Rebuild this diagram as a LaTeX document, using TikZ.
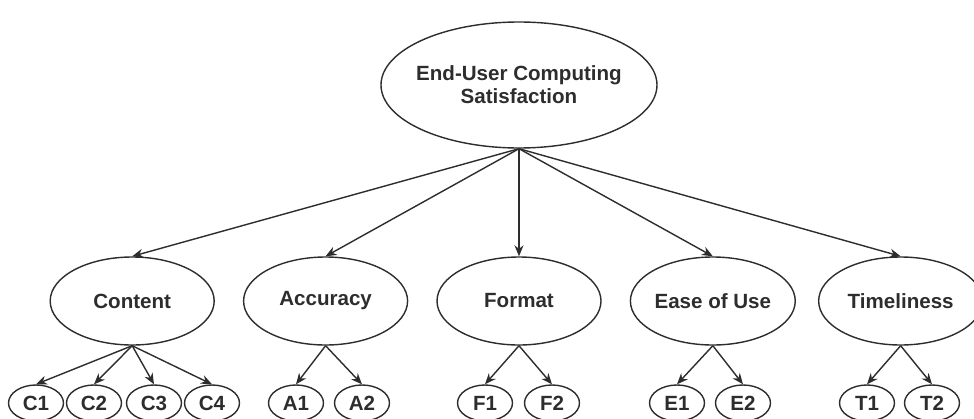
\documentclass[tikz,border=0pt]{standalone}
\usepackage{fontspec}
\setmainfont{Liberation Sans}
\usetikzlibrary{shapes.geometric,arrows.meta,positioning}
\definecolor{ink}{RGB}{45,45,45}

\begin{document}
\begin{tikzpicture}[
	font=\bfseries\fontsize{11.7}{13}\selectfont,
	node distance=0.56cm,
	>={Stealth[length=2.2mm,width=1.8mm]},
	construct/.style={ellipse, draw=ink, text=ink, line width=0.8pt, minimum width=3.28cm, minimum height=1.76cm, inner sep=0pt, align=center},
	item/.style={ellipse, draw=ink, text=ink, line width=0.8pt, minimum width=1.1cm, minimum height=0.72cm, inner sep=0pt},
	link/.style={->, draw=ink, line width=0.8pt}
]
\useasboundingbox (0,0) rectangle (19.48,8.36);

% --- Second-order construct ---
\node[construct, minimum width=5.52cm, minimum height=2.52cm, inner xsep=-1.5mm] (eucs) at (10.38,6.66) {End-User Computing\\Satisfaction};

% --- Dimensions ---
\node[construct] (format) at (10.38,2.34) {Format};
\node[construct, left=of format] (accuracy) {Accuracy};
\node[construct, left=of accuracy] (content) {Content};
\node[construct, right=of format] (ease) {Ease of Use};
\node[construct, right=0.44cm of ease] (timeliness) {Timeliness};

\foreach \d in {content,accuracy,format,ease,timeliness}
  \draw[link] (eucs.south) -- (\d.north);

% --- Indicators ---
\foreach \n/\x in {C1/0.72, C2/1.88, C3/3.08, C4/4.24, A1/5.92, A2/7.24, F1/9.70, F2/11.04, E1/13.54, E2/14.86, T1/17.34, T2/18.64}
  \node[item] (\n) at (\x,0.30) {\n};

\foreach \d/\n in {content/C1, content/C2, content/C3, content/C4, accuracy/A1, accuracy/A2, format/F1, format/F2, ease/E1, ease/E2, timeliness/T1, timeliness/T2}
  \draw[link] (\d.south) -- (\n.north);

\end{tikzpicture}
\end{document}
